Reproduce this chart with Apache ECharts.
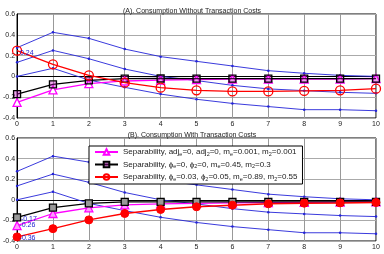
<!DOCTYPE html>
<html><head><meta charset="utf-8">
<script src="https://cdn.jsdelivr.net/npm/echarts@6/dist/echarts.min.js"></script>
<style>html,body{margin:0;padding:0;background:#fff}#c{width:384px;height:254px}</style>
</head><body><div id="c"></div>
<script>
const horizons = [0,1,2,3,4,5,6,7,8,9,10];
const yTicks = [-0.4,-0.2,0,0.2,0.4,0.6];
const bandUpper = [0.276,0.424,0.366,0.263,0.19,0.145,0.10,0.055,0.03,0.01,0.0];
const bandMid = [0.135,0.25,0.17,0.071,0.0,-0.04,-0.086,-0.12,-0.137,-0.153,-0.163];
const bandLower = [0.0,0.078,-0.035,-0.105,-0.17,-0.22,-0.26,-0.29,-0.32,-0.32,-0.33];
const magA = [-0.25,-0.13,-0.07,-0.044,-0.035,-0.03,-0.025,-0.025,-0.025,-0.025,-0.02];
const blackA = [-0.17,-0.076,-0.038,-0.022,-0.02,-0.022,-0.022,-0.022,-0.022,-0.022,-0.022];
const redA = [0.247,0.116,0.01,-0.06,-0.108,-0.134,-0.144,-0.144,-0.14,-0.134,-0.118];
const magB = [-0.25,-0.133,-0.078,-0.05,-0.04,-0.035,-0.03,-0.028,-0.025,-0.022,-0.02];
const blackB = [-0.17,-0.075,-0.035,-0.02,-0.02,-0.02,-0.02,-0.02,-0.02,-0.02,-0.02];
const redB = [-0.36,-0.28,-0.195,-0.133,-0.094,-0.068,-0.052,-0.039,-0.033,-0.03,-0.026];
const titles = ['(A). Consumption Without Transaction Costs','(B). Consumption With Transaction Costs'];
const names = [
  'Separability, adj{s|e}=0, adj{s|2}=0, m{s|e}=0.001, m{s|2}=0.001',
  'Separability, \u03d5{s|e}=0, \u03d5{s|2}=0, m{s|e}=0.45, m{s|2}=0.3',
  'Separability, \u03d5{s|e}=0.03, \u03d5{s|2}=0.05, m{s|e}=0.89, m{s|2}=0.55'
];
const legendNames = ['L1','L2','L3'];

const chart = echarts.init(document.getElementById('c'), null, {renderer:'canvas'});
const pts = a => a.map((v,i)=>[horizons[i], v]);
const grids = [
  {left:15, width:361, top:14, height:104, show:true, borderColor:'#000', borderWidth:1},
  {left:15, width:361, top:138, height:103, show:true, borderColor:'#000', borderWidth:1}
];
const xAxes = grids.map((g,i)=>({type:'value', gridIndex:i, min:0, max:10, interval:1,
  axisLine:{lineStyle:{color:'#000'}}, axisTick:{show:false},
  axisLabel:{fontSize:7, color:'#222', margin:3, fontFamily:'Liberation Sans'},
  splitLine:{show:true, lineStyle:{color:'#999', width:1}}}));
const yAxes = grids.map((g,i)=>({type:'value', gridIndex:i, min:yTicks[0], max:yTicks[yTicks.length-1], interval:0.2,
  axisLine:{lineStyle:{color:'#000'}}, axisTick:{show:false},
  axisLabel:{fontSize:7, color:'#222', margin:2, fontFamily:'Liberation Sans',
    formatter:v=>{const r=Math.round(v*10)/10; return r===0?'0':String(r);}},
  splitLine:{show:true, lineStyle:{color:'#aaa', width:1}}}));

const blue = '#2424d8';
function bandSeries(idx){
  return [bandUpper,bandMid,bandLower].map(d=>({type:'line', xAxisIndex:idx, yAxisIndex:idx,
    data:pts(d), symbol:'circle', symbolSize:2.5, lineStyle:{color:blue,width:0.9},
    itemStyle:{color:blue}, silent:true, z:2}));
}
function lbl(text, pos){ return {show:true, position:pos, formatter:text, fontSize:7, color:'#1a1ad0', fontFamily:'Liberation Sans'}; }

const series = [
  ...bandSeries(0), ...bandSeries(1),
  {name:'L1', type:'line', xAxisIndex:0, yAxisIndex:0, data:pts(magA), symbol:'triangle', symbolSize:8,
    lineStyle:{color:'#ff00ff',width:1.3}, itemStyle:{color:'#fff',borderColor:'#ff00ff',borderWidth:1.3}, z:3},
  {name:'L2', type:'line', xAxisIndex:0, yAxisIndex:0, data:pts(blackA), symbol:'rect', symbolSize:7,
    lineStyle:{color:'#000',width:1.3}, itemStyle:{color:'rgba(200,0,200,0.35)',borderColor:'#000',borderWidth:1.3}, z:4},
  {name:'L3', type:'line', xAxisIndex:0, yAxisIndex:0,
    data:pts(redA).map((p,i)=>i===0?{value:p,label:lbl('0.24',[8,4])}:p), symbol:'circle', symbolSize:9,
    lineStyle:{color:'#ff0000',width:1.3}, itemStyle:{color:'rgba(255,255,255,0)',borderColor:'#ff0000',borderWidth:1.3}, z:5},
  {name:'L1', type:'line', xAxisIndex:1, yAxisIndex:1,
    data:pts(magB).map((p,i)=>i===0?{value:p,label:lbl('-0.26',[7,1])}:p), symbol:'triangle', symbolSize:8,
    lineStyle:{color:'#ff00ff',width:1.3}, itemStyle:{color:'#ff99ff',borderColor:'#ff00ff',borderWidth:1.3}, z:3},
  {name:'L2', type:'line', xAxisIndex:1, yAxisIndex:1,
    data:pts(blackB).map((p,i)=>i===0?{value:p,label:lbl('-0.17',[8,2])}:p), symbol:'rect', symbolSize:7,
    lineStyle:{color:'#000',width:1.3}, itemStyle:{color:'#999',borderColor:'#000',borderWidth:1.3}, z:4},
  {name:'L3', type:'line', xAxisIndex:1, yAxisIndex:1,
    data:pts(redB).map((p,i)=>i===0?{value:p,label:lbl('-0.36',[7,2])}:p), symbol:'circle', symbolSize:8,
    lineStyle:{color:'#ff0000',width:1.5}, itemStyle:{color:'#ff0000',borderColor:'#ff0000',borderWidth:1}, z:5}
];

chart.setOption({
  animation:false,
  backgroundColor:'#fff',
  title: titles.map((t,i)=>({text:t, left:'center', top:i===0?3:127,
    textStyle:{fontSize:7, fontWeight:'normal', color:'#222', fontFamily:'Liberation Sans'}})),
  grid:grids, xAxis:xAxes, yAxis:yAxes,
  legend:{data:legendNames, orient:'vertical', left:89, top:146, width:213,
    backgroundColor:'#fff', borderColor:'#000', borderWidth:1, padding:[2,5,2,5], itemGap:3.5,
    itemWidth:23, itemHeight:7,
    formatter:n=>names[legendNames.indexOf(n)],
    textStyle:{fontSize:8, color:'#222', fontFamily:'Liberation Sans',
      rich:{s:{fontSize:5.5, verticalAlign:'bottom', padding:[4,0,0,0], color:'#222', fontFamily:'Liberation Sans'}}}},
  series:series
});
</script></body></html>
